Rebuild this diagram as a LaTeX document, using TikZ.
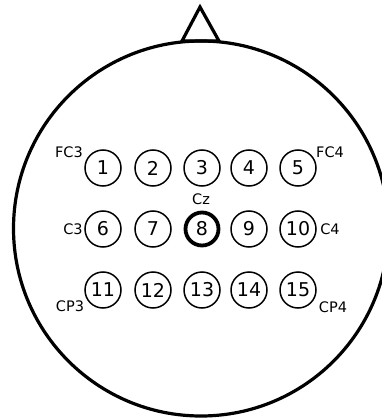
\documentclass[tikz,border=0pt]{standalone}
\usepackage{fontspec}
\setmainfont{DejaVu Sans}
\begin{document}
\begin{tikzpicture}[x=1pt,y=-1pt,
  electrode/.style={circle,draw,line width=1.5pt,minimum size=36pt,inner sep=0pt,font=\fontsize{19}{19}\selectfont},
  czelectrode/.style={electrode,line width=3.8pt,minimum size=33pt},
  lbl/.style={inner sep=0pt,font=\fontsize{14.5}{14.5}\selectfont},
  head/.style={line width=3.2pt}]
\useasboundingbox (0,0) rectangle (381,419);
\coordinate (nl) at (182,41);
\coordinate (nt) at (200,7);
\coordinate (nr) at (219,41);
\draw[head,line join=miter] (nl) -- (nt) -- (nr) -- cycle;
\draw[head] (201,228.5) circle (187.5);
\foreach \n/\x/\y in {1/103/168,2/153/168,3/202/168,4/249/168,5/298/168,
  6/103/229,7/153/229,9/249/229,10/298/229,
  11/103/290,12/153/290,13/202/290,14/249/290,15/298/290}
  \node[electrode] (e\n) at (\x,\y) {\n};
\node[czelectrode] (e8) at (202,229) {8};
\node[lbl] (fc3) at (69,152) {FC3};
\node[lbl] (fc4) at (330,152) {FC4};
\node[lbl] (cz) at (201,199) {Cz};
\node[lbl] (c3) at (73,229) {C3};
\node[lbl] (c4) at (330,229) {C4};
\node[lbl] (cp3) at (70,306) {CP3};
\node[lbl] (cp4) at (333,307) {CP4};
\end{tikzpicture}
\end{document}
